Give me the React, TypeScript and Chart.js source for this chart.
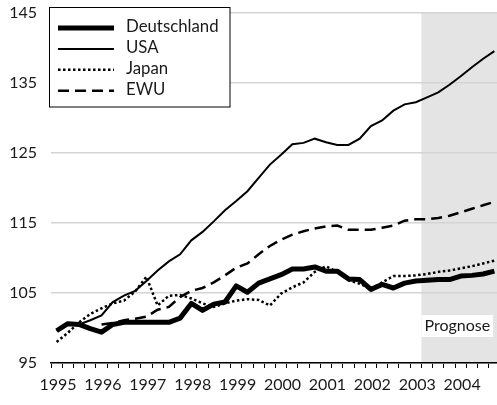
import React, { useEffect, useRef } from 'react';
import { Chart, registerables } from 'chart.js';

Chart.register(...registerables);

// Years on the x axis (quarterly data, 1995 Q1 – 2004 Q4)
const years = ['1995', '1996', '1997', '1998', '1999', '2000', '2001', '2002', '2003', '2004'];

const deutschland = [
  99.6, 100.6, 100.5, 99.9, 99.4, 100.5, 100.8, 100.8, 100.8, 100.8,
  100.8, 101.4, 103.5, 102.5, 103.4, 103.7, 106.0, 105.1, 106.4, 107.0,
  107.6, 108.4, 108.4, 108.7, 108.1, 108.1, 107.0, 106.9, 105.5, 106.2,
  105.7, 106.4, 106.7, 106.8, 106.9, 106.9, 107.4, 107.5, 107.7, 108.1,
];

const usa = [
  99.6, 100.5, 100.5, 101.1, 101.8, 103.7, 104.6, 105.3, 106.7, 108.2,
  109.5, 110.5, 112.5, 113.7, 115.2, 116.8, 118.1, 119.5, 121.4, 123.3,
  124.7, 126.2, 126.4, 127.0, 126.5, 126.1, 126.1, 127.0, 128.8, 129.6,
  131.0, 131.9, 132.2, 132.9, 133.6, 134.7, 135.9, 137.2, 138.4, 139.5,
];

const japan = [
  98.0, 99.3, 100.8, 102.0, 102.8, 103.5, 103.9, 105.2, 107.3, 103.2,
  104.6, 104.7, 104.2, 103.5, 103.0, 103.5, 103.9, 104.1, 104.0, 103.2,
  104.9, 105.8, 106.5, 108.0, 108.8, 108.0, 106.8, 106.3, 105.6, 106.5,
  107.4, 107.4, 107.5, 107.7, 108.0, 108.2, 108.5, 108.8, 109.2, 109.6,
];

const ewu = [
  null, null, null, null, 100.5, 100.7, 101.1, 101.3, 101.6, 102.6,
  103.0, 104.4, 105.3, 105.7, 106.5, 107.5, 108.6, 109.2, 110.5, 111.7,
  112.6, 113.3, 113.8, 114.2, 114.5, 114.6, 114.0, 114.0, 114.0, 114.3,
  114.6, 115.3, 115.5, 115.5, 115.7, 116.0, 116.5, 117.0, 117.5, 118.0,
];

const yTicks = [95, 105, 115, 125, 135, 145];
const forecastStartQuarter = 33; // 2003 Q2
const forecastLabel = 'Prognose';

const FONT = 'Lato, "Liberation Sans", sans-serif';
const TEXT = '#1a1a1a';

const toPoints = (arr: (number | null)[]) => arr.map((v, i) => ({ x: i + 0.5, y: v }));

const shadePlugin = {
  id: 'forecastShade',
  beforeDraw(chart: any) {
    const { ctx, chartArea, scales } = chart;
    const x0 = scales.x.getPixelForValue(forecastStartQuarter);
    ctx.save();
    ctx.fillStyle = '#e4e4e4';
    ctx.fillRect(x0, chartArea.top, chartArea.right - x0, chartArea.bottom - chartArea.top);
    ctx.restore();
  },
  afterDatasetsDraw(chart: any) {
    const { ctx, scales } = chart;
    const x0 = scales.x.getPixelForValue(forecastStartQuarter);
    ctx.save();
    ctx.font = `16px ${FONT}`;
    const w = ctx.measureText(forecastLabel).width;
    ctx.fillStyle = '#fff';
    ctx.fillRect(x0, 315, w + 6, 22);
    ctx.fillStyle = TEXT;
    ctx.textBaseline = 'middle';
    ctx.textAlign = 'left';
    ctx.fillText(forecastLabel, x0 + 3, 326);
    ctx.restore();
  },
};

const legendPlugin = {
  id: 'boxLegend',
  afterDraw(chart: any) {
    const { ctx } = chart;
    ctx.save();
    ctx.fillStyle = '#fff';
    ctx.fillRect(49.5, 7.5, 180.5, 99.5);
    ctx.strokeStyle = '#000';
    ctx.lineWidth = 1;
    ctx.strokeRect(49.5, 7.5, 180.5, 99.5);
    chart.data.datasets.forEach((ds: any, i: number) => {
      const y = 28 + i * 20.9;
      ctx.beginPath();
      ctx.setLineDash(ds.borderDash || []);
      ctx.lineWidth = ds.borderWidth;
      ctx.strokeStyle = ds.borderColor;
      ctx.moveTo(58, y);
      ctx.lineTo(114, y);
      ctx.stroke();
      ctx.setLineDash([]);
      ctx.fillStyle = TEXT;
      ctx.font = `16.8px ${FONT}`;
      ctx.textBaseline = 'middle';
      ctx.textAlign = 'left';
      ctx.fillText(ds.label, 126, y - 1);
    });
    ctx.restore();
  },
};

export default function App() {
  const ref = useRef<HTMLCanvasElement>(null);

  useEffect(() => {
    if (!ref.current) return;
    const chart = new Chart(ref.current, {
      type: 'line',
      data: {
        datasets: [
          { label: 'Deutschland', data: toPoints(deutschland), borderColor: '#000', borderWidth: 5, pointRadius: 0, borderJoinStyle: 'round' },
          { label: 'USA', data: toPoints(usa), borderColor: '#000', borderWidth: 2, pointRadius: 0 },
          { label: 'Japan', data: toPoints(japan), borderColor: '#000', borderWidth: 2.5, borderDash: [2.5, 2.5], pointRadius: 0 },
          { label: 'EWU', data: toPoints(ewu), borderColor: '#000', borderWidth: 2.5, borderDash: [11, 6], pointRadius: 0 },
        ] as any,
      },
      options: {
        responsive: false,
        animation: false,
        layout: { padding: { top: 12.5, left: 0, right: 0, bottom: 0 } },
        plugins: { legend: { display: false }, tooltip: { enabled: false } },
        scales: {
          x: {
            type: 'linear',
            min: 0,
            max: years.length * 4,
            afterFit: (s: any) => { s.height = 42; s.paddingLeft = 0; s.paddingRight = 0; },
            grid: { drawOnChartArea: false, drawTicks: true, tickLength: 5, color: '#000', lineWidth: 1 },
            border: { display: true, color: '#000', width: 1.5 },
            ticks: {
              stepSize: 1,
              autoSkip: false,
              maxRotation: 0,
              minRotation: 0,
              padding: 7,
              labelOffset: 7,
              color: TEXT,
              font: { family: FONT, size: 16 },
              callback: (v: any) => (v % 4 === 0 && v / 4 < years.length ? years[v / 4] : ''),
            },
          },
          y: {
            min: yTicks[0],
            max: yTicks[yTicks.length - 1],
            afterFit: (s: any) => { s.width = 51; s.paddingTop = 0; s.paddingBottom = 0; },
            afterBuildTicks: (s: any) => { s.ticks = yTicks.map((v) => ({ value: v })); },
            grid: { color: '#d4d4d4', lineWidth: 1.5, drawTicks: false },
            border: { display: false },
            ticks: { padding: 14, color: TEXT, font: { family: FONT, size: 16 } },
          },
        },
      } as any,
      plugins: [shadePlugin, legendPlugin],
    });
    return () => chart.destroy();
  }, []);

  return (
    <div style={{ position: 'absolute', left: 0, top: 0, width: 497, height: 405, overflow: 'hidden', background: '#fff' }}>
      <canvas ref={ref} width={500} height={405} style={{ display: 'block' }} />
    </div>
  );
}
